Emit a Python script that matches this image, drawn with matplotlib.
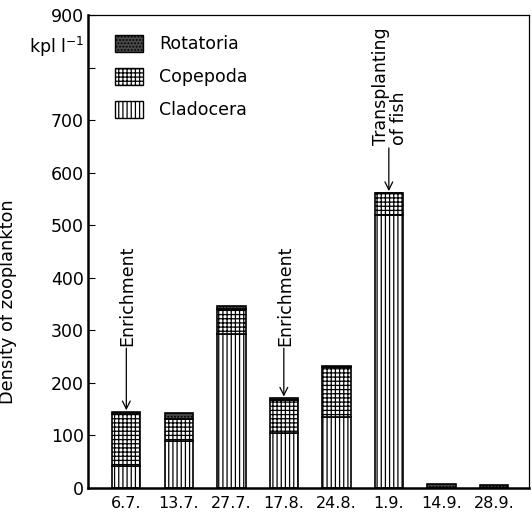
import matplotlib
matplotlib.use("Agg")
import matplotlib.pyplot as plt
from matplotlib.patches import Patch

# Sampling dates and zooplankton density (kpl per litre) by group
dates = ['6.7.', '13.7.', '27.7.', '17.8.', '24.8.', '1.9.', '14.9.', '28.9.']
cladocera = [42, 89, 293, 105, 135, 519, 0, 0]
copepoda = [99, 42, 47, 63, 95, 43, 0, 0]
rotatoria = [4, 12, 6, 3, 2, 0, 7, 5]

y_ticks = [0, 100, 200, 300, 400, 500, 600, 700, 800, 900]
y_tick_labels = ['0', '100', '200', '300', '400', '500', '600', '700', '', '900']

plt.rcParams['font.family'] = ['DejaVu Sans']
plt.rcParams['hatch.linewidth'] = 0.9
FS = 12.5
FT = 12.5

fig = plt.figure(figsize=(5.32, 5.21), dpi=100)
ax = fig.add_axes([0.1654, 0.0633, 0.8290, 0.9079])

x = list(range(len(dates)))
width = 0.54
bottom_cop = cladocera
bottom_rot = [a + b for a, b in zip(cladocera, copepoda)]

kw = dict(width=width, edgecolor='black', linewidth=1.2)
ax.bar(x, cladocera, facecolor='white', hatch='||||', **kw)
ax.bar(x, copepoda, bottom=bottom_cop, facecolor='white', hatch='++++', **kw)
ax.bar(x, rotatoria, bottom=bottom_rot, facecolor='#4a4a4a', hatch='.....', **kw)

ax.set_xlim(-0.73, 7.67)
ax.set_ylim(0, 900)
ax.set_yticks(y_ticks)
ax.set_yticklabels(y_tick_labels, fontsize=FS)
ax.set_xticks(x)
ax.set_xticklabels(dates, fontsize=11.5)
ax.tick_params(axis='y', direction='in', length=5, width=0.8, pad=3)
ax.tick_params(axis='x', length=0, pad=6)

for side in ('left', 'bottom'):
    ax.spines[side].set_linewidth(1.8)
for side in ('top', 'right'):
    ax.spines[side].set_linewidth(0.9)

ax.set_ylabel('Density of zooplankton', fontsize=12.8)
ax.yaxis.set_label_coords(-0.16, 0.393)

ax.text(-0.008, 839, 'kpl l$^{-1}$', transform=ax.get_yaxis_transform(),
        ha='right', va='center', fontsize=FS)

# Event markers
arrow = dict(arrowstyle='->', color='black', lw=0.9, mutation_scale=14,
             shrinkA=0, shrinkB=0)
totals = [a + b for a, b in zip(bottom_rot, rotatoria)]
for i, text_base in [(0, 266), (3, 266)]:
    ax.text(i + 0.02, text_base + 4, 'Enrichment', rotation=90, ha='center',
            va='bottom', fontsize=FT)
    ax.annotate('', xy=(i, totals[i] + 3), xytext=(i, text_base), arrowprops=arrow)

i = 5
ax.text(i - 0.15, 652, 'Transplanting', rotation=90, ha='center', va='bottom', fontsize=FT)
ax.text(i + 0.2, 652, 'of fish', rotation=90, ha='center', va='bottom', fontsize=FT)
ax.annotate('', xy=(i, totals[i] + 3), xytext=(i, 647), arrowprops=arrow)

handles = [
    Patch(facecolor='#4a4a4a', edgecolor='black', hatch='.....', label='Rotatoria'),
    Patch(facecolor='white', edgecolor='black', hatch='++++', label='Copepoda'),
    Patch(facecolor='white', edgecolor='black', hatch='||||', label='Cladocera'),
]
ax.legend(handles=handles, loc='upper left', bbox_to_anchor=(0.061, 0.958),
          frameon=False, fontsize=FT, borderpad=0, borderaxespad=0,
          handlelength=1.6, handleheight=1.1, handletextpad=0.95,
          labelspacing=0.85)

fig.savefig('out.png', dpi=100)
